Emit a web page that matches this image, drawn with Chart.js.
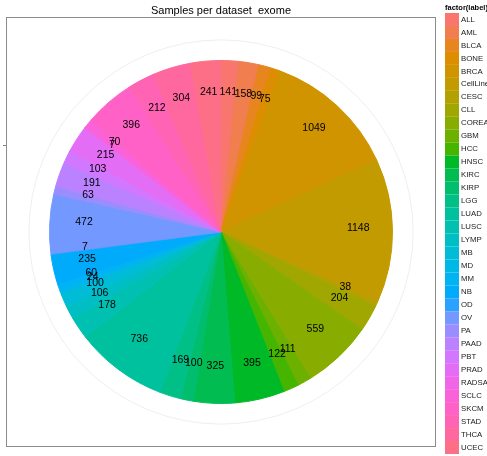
<!DOCTYPE html>
<html>
<head>
<meta charset="utf-8">
<script src="https://cdn.jsdelivr.net/npm/chart.js@4.4.1/dist/chart.umd.min.js"></script>
<style>
  html, body { margin: 0; padding: 0; background: #fff; overflow: hidden; }
  canvas { display: block; }
</style>
</head>
<body>
<canvas id="c" width="487" height="456"></canvas>
<script>
// Datasets and their sample counts (exome)
const datasets = ['ALL','AML','BLCA','BONE','BRCA','CellLines','CESC','CLL','COREAD','GBM',
  'HCC','HNSC','KIRC','KIRP','LGG','LUAD','LUSC','LYMP','MB','MD','MM','NB','OD','OV',
  'PA','PAAD','PBT','PRAD','RADSARC','SCLC','SKCM','STAD','THCA','UCEC'];
const samples = [141,158,99,75,1049,1148,38,204,559,111,
  122,395,325,100,169,736,178,106,100,24,60,235,7,472,
  63,191,103,215,7,70,396,212,304,241];
const chartTitle = 'Samples per dataset  exome';
const legendTitle = 'factor(label)';

const FONT = '"Liberation Sans", Arial, Helvetica, sans-serif';

// Evenly spaced hues in HCL space (L=65, C=100), like the default discrete palette
function hcl(h, c, l) {
  const Xn = 95.047, Yn = 100.0, Zn = 108.883;
  const un = 4 * Xn / (Xn + 15 * Yn + 3 * Zn);
  const vn = 9 * Yn / (Xn + 15 * Yn + 3 * Zn);
  const hr = h * Math.PI / 180;
  const U = c * Math.cos(hr), V = c * Math.sin(hr);
  const Y = l > 7.999592 ? Yn * Math.pow((l + 16) / 116, 3) : Yn * l / 903.3;
  const up = U / (13 * l) + un, vp = V / (13 * l) + vn;
  const X = 9.0 * Y * up / (4 * vp);
  const Z = -X / 3 - 5 * Y + 3 * Y / vp;
  const x = X / 100, y = Y / 100, z = Z / 100;
  const lin = [
     3.240479 * x - 1.537150 * y - 0.498535 * z,
    -0.969256 * x + 1.875992 * y + 0.041556 * z,
     0.055648 * x - 0.204043 * y + 1.057311 * z
  ];
  const g = lin.map(v => {
    v = v > 0.00304 ? 1.055 * Math.pow(v, 1 / 2.4) - 0.055 : 12.92 * v;
    return Math.round(Math.min(1, Math.max(0, v)) * 255);
  });
  return 'rgb(' + g.join(',') + ')';
}
const n = datasets.length;
const colors = datasets.map((_, i) => hcl(15 + 360 * i / n, 100, 65));

// Panel frame, faint outer grid circle and axis tick (behind the pie)
const panelPlugin = {
  id: 'panel',
  beforeDatasetsDraw(chart) {
    const ctx = chart.ctx;
    const arc = chart.getDatasetMeta(0).data[0];
    const cx = arc.x, cy = arc.y, R = arc.outerRadius + 0.5;
    ctx.save();
    ctx.fillStyle = '#ffffff';
    ctx.fillRect(0, 0, chart.width, chart.height);
    // panel border
    const half = R * 1.25;
    ctx.strokeStyle = '#8c8c8c';
    ctx.lineWidth = 1;
    ctx.strokeRect(Math.round(cx - half) + 0.5, Math.round(cy - half) + 0.5,
                   Math.round(2 * half) - 1, Math.round(2 * half) - 1);
    // outer grid circle
    ctx.beginPath();
    ctx.arc(cx, cy, R * 1.117, 0, Math.PI * 2);
    ctx.strokeStyle = '#efefef';
    ctx.lineWidth = 1;
    ctx.stroke();
    // radial axis tick
    const ty = Math.round(cy - 0.505 * R) + 0.5;
    const tx = Math.round(cx - half);
    ctx.beginPath();
    ctx.moveTo(tx - 3, ty);
    ctx.lineTo(tx, ty);
    ctx.strokeStyle = '#7f7f7f';
    ctx.stroke();
    ctx.restore();
  },
  afterDatasetsDraw(chart) {
    const ctx = chart.ctx;
    const meta = chart.getDatasetMeta(0);
    const values = chart.data.datasets[0].data;
    ctx.save();
    ctx.font = '10.5px ' + FONT;
    ctx.fillStyle = '#000000';
    ctx.textAlign = 'center';
    ctx.textBaseline = 'middle';
    meta.data.forEach((el, i) => {
      const p = el.getProps(['x', 'y', 'startAngle', 'endAngle', 'outerRadius']);
      const mid = (p.startAngle + p.endAngle) / 2;
      const r = p.outerRadius * 0.8;
      ctx.fillText(String(values[i]), p.x + r * Math.cos(mid), p.y + r * Math.sin(mid) - 3);
    });
    ctx.restore();
  },
  afterDraw(chart) {
    const ctx = chart.ctx;
    const arc = chart.getDatasetMeta(0).data[0];
    const cx = arc.x;
    ctx.save();
    // title
    ctx.font = '11px ' + FONT;
    ctx.fillStyle = '#000000';
    ctx.textAlign = 'center';
    ctx.textBaseline = 'middle';
    ctx.fillText(chartTitle, cx, 11);
    // legend
    ctx.textAlign = 'left';
    ctx.font = 'bold 7.5px ' + FONT;
    ctx.fillText(legendTitle, 445, 8);
    ctx.font = '7.8px ' + FONT;
    const step = 12.97;
    chart.data.labels.forEach((lab, i) => {
      const y0 = 13 + step * i;
      ctx.fillStyle = colors[i];
      ctx.fillRect(445, y0, 14, step);
      ctx.fillStyle = '#1a1a1a';
      ctx.fillText(lab, 461, y0 + step / 2);
    });
    ctx.restore();
  }
};

new Chart(document.getElementById('c'), {
  type: 'pie',
  data: {
    labels: datasets,
    datasets: [{
      data: samples,
      backgroundColor: colors,
      borderColor: colors,
      borderWidth: 1
    }]
  },
  options: {
    responsive: false,
    animation: false,
    devicePixelRatio: 1,
    layout: { padding: { left: 49, right: 94, top: 60, bottom: 52 } },
    plugins: {
      legend: { display: false },
      tooltip: { enabled: false },
      title: { display: false }
    }
  },
  plugins: [panelPlugin]
});
</script>
</body>
</html>
